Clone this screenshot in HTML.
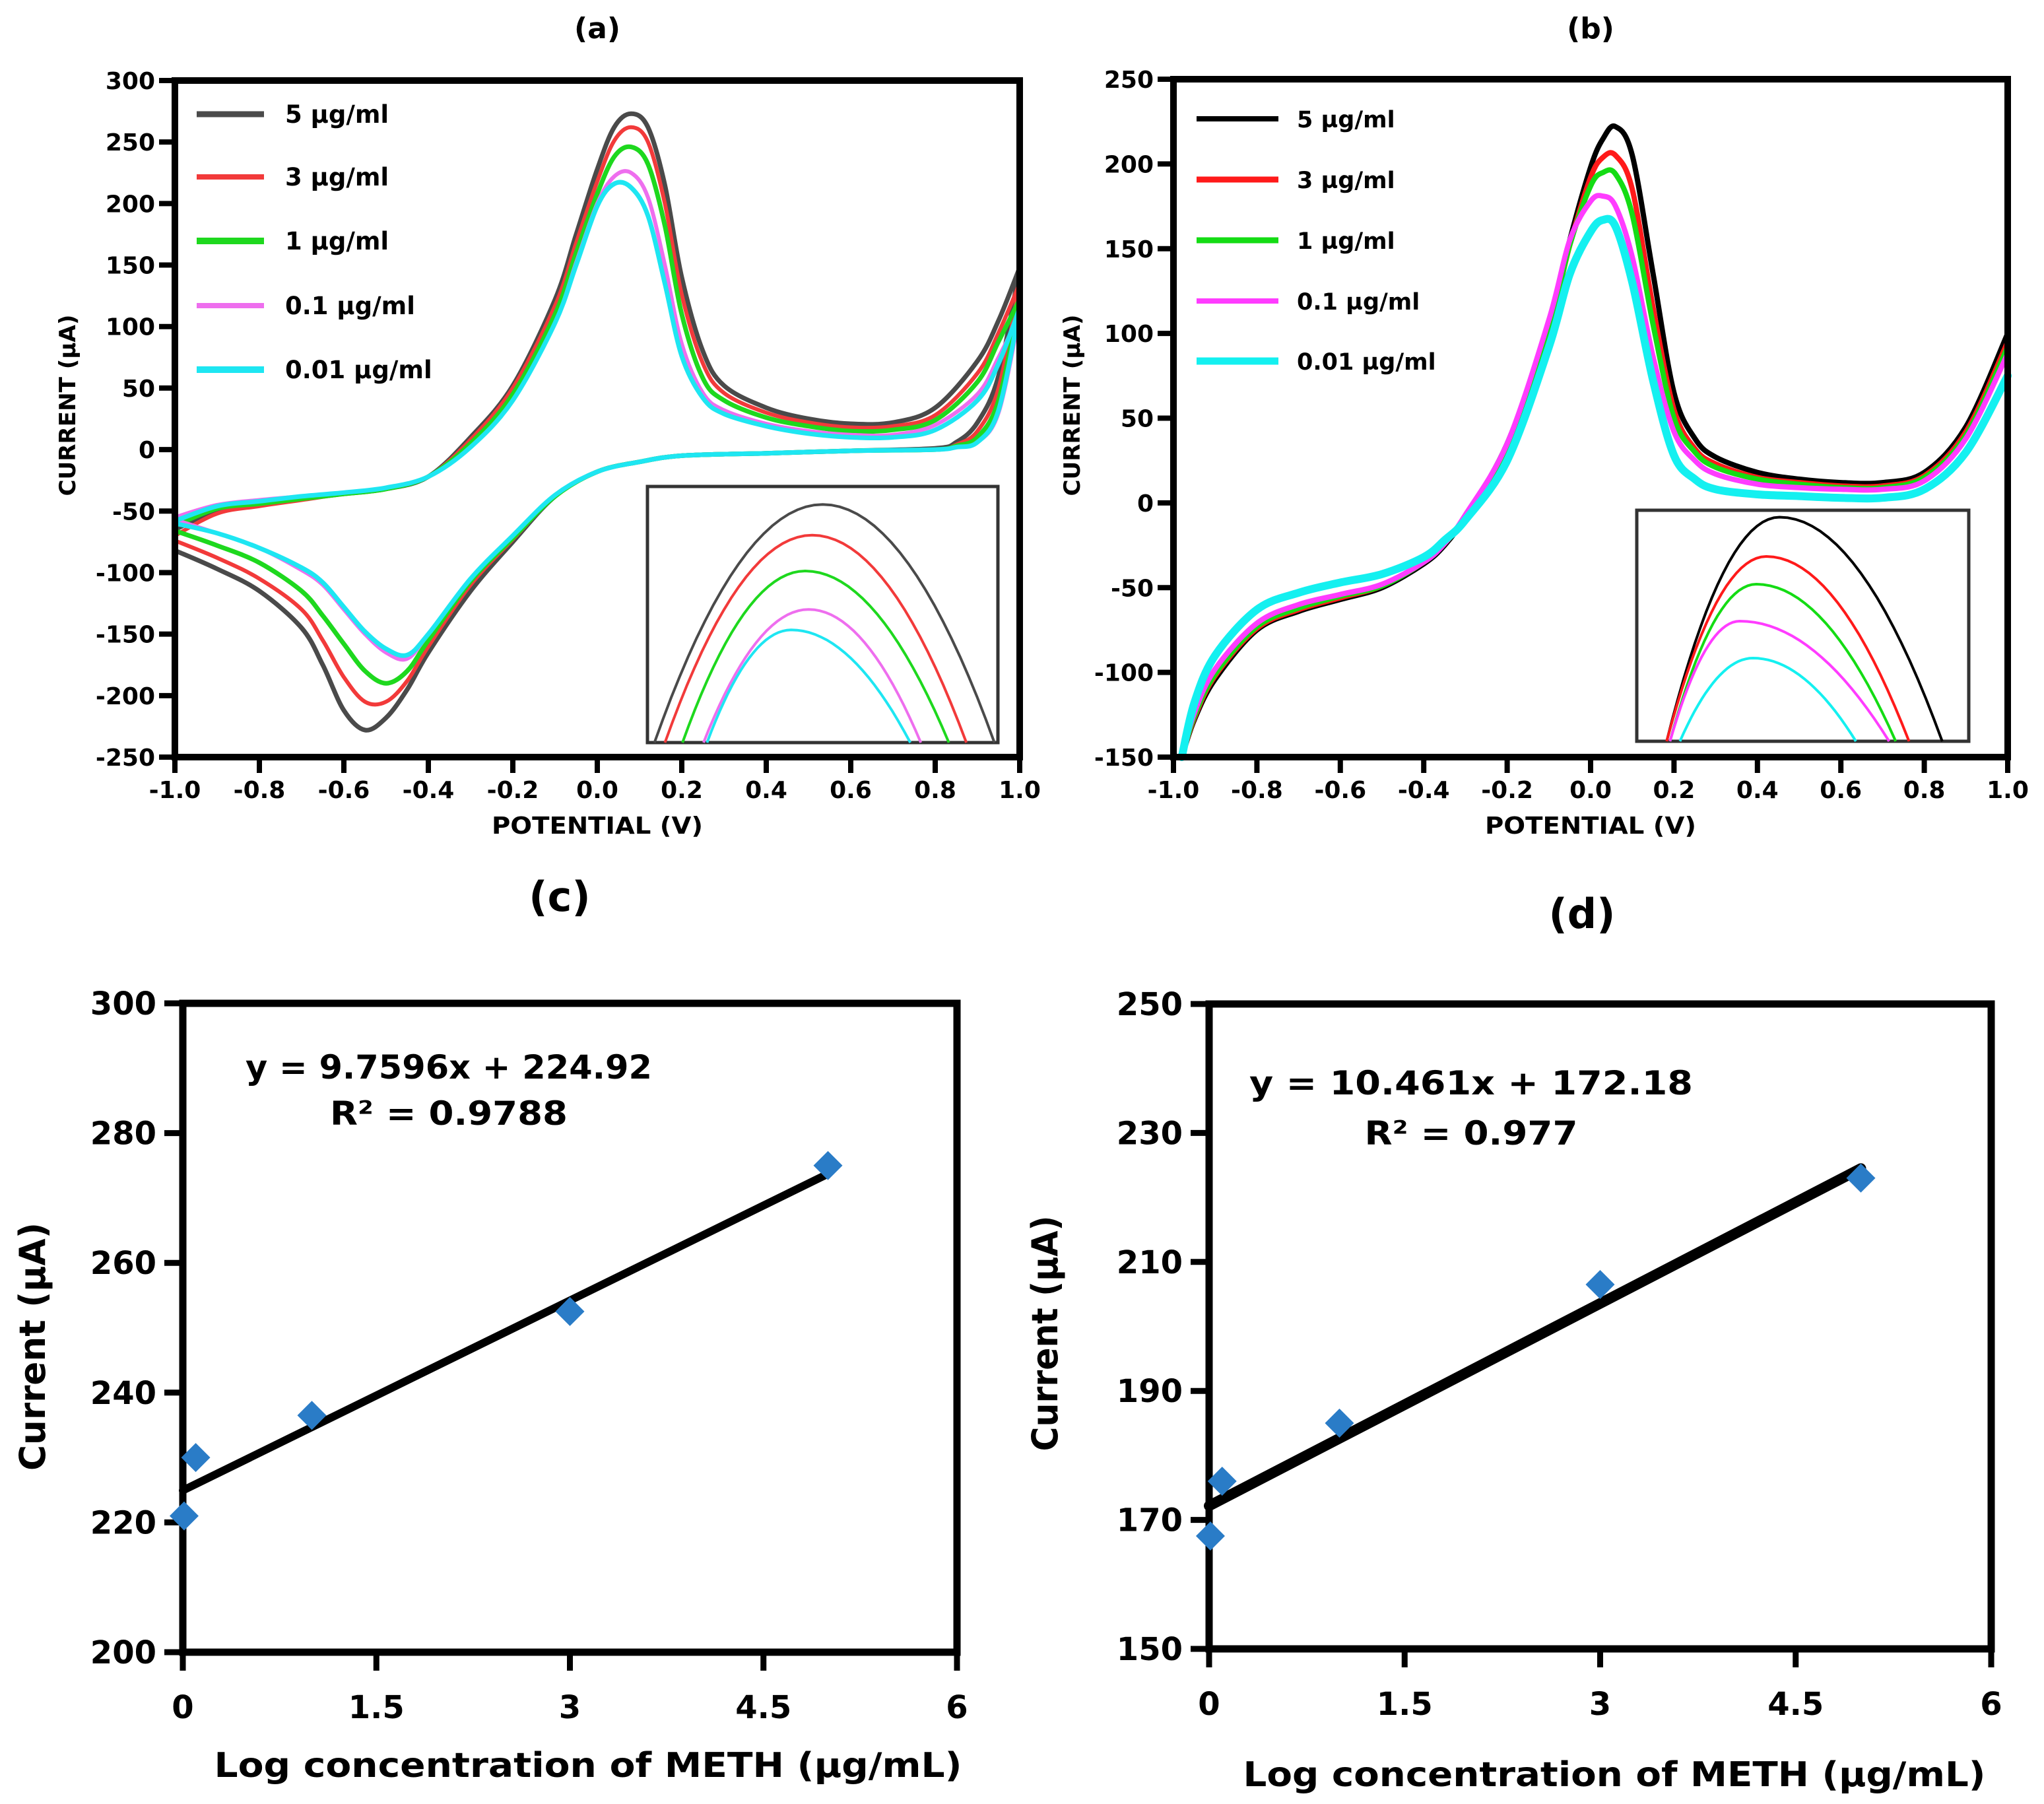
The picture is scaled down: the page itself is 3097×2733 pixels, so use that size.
<!DOCTYPE html>
<html><head><meta charset="utf-8"><style>
html,body{margin:0;padding:0;background:#fff;}
svg{display:block;font-family:"DejaVu Sans","Liberation Sans",sans-serif;font-weight:bold;}
</style></head><body>
<svg id="fig" width="3097" height="2733" viewBox="0 0 3097 2733" xmlns="http://www.w3.org/2000/svg"></svg>
<script>
// ---------- Panel (a) data ----------
const aLabels = ["5 µg/ml","3 µg/ml","1 µg/ml","0.1 µg/ml","0.01 µg/ml"];
const aColors = ["#4a4a4a","#f23a3a","#1ed81e","#ee6eee","#1ee6f2"];
const aUpX = [-1,-0.9,-0.8,-0.7,-0.6,-0.5,-0.4,-0.3,-0.2,-0.1,-0.05,0,0.04,0.08,0.12,0.16,0.2,0.25,0.3,0.4,0.5,0.6,0.7,0.8,0.9,0.95,1.0];
const aUp5   = [-65,-50,-45,-40,-36,-32,-22,10,52,122,175,228,262,273,262,215,140,80,52,34,25,21,22,34,72,105,148];
const aUp3   = [-70,-52,-46,-41,-36,-32,-22,8,50,117,168,218,251,262,250,200,126,70,46,30,22,18,19,28,62,95,135];
const aUp1   = [-62,-48,-44,-40,-36,-32,-22,5,45,110,160,208,238,246,232,182,110,58,40,26,19,15,16,24,55,88,122];
const aUp01  = [-55,-45,-41,-38,-35,-31,-22,2,40,103,152,200,222,225,205,150,86,46,32,21,15,12,12,20,45,75,110];
const aUp001 = [-58,-46,-42,-38,-35,-31,-22,2,40,103,150,198,216,213,190,135,76,42,29,19,13,10,10,16,40,70,115];
const aDnX = [1.0,0.95,0.9,0.85,0.8,0.6,0.4,0.2,0.1,0,-0.1,-0.2,-0.3,-0.4,-0.45,-0.5,-0.55,-0.6,-0.65,-0.7,-0.8,-0.9,-1.0];
const aDn5   = [148,60,22,6,1,-1,-3,-5,-10,-18,-38,-75,-115,-165,-195,-218,-228,-212,-175,-145,-115,-97,-82];
const aDn3   = [135,50,15,4,0,-1,-3,-5,-10,-18,-38,-73,-110,-160,-188,-205,-205,-185,-155,-130,-105,-88,-74];
const aDn1   = [122,40,10,3,0,-1,-3,-5,-10,-18,-38,-72,-107,-155,-180,-190,-180,-158,-135,-115,-92,-78,-66];
const aDn01  = [110,30,6,2,0,-1,-3,-5,-10,-18,-37,-70,-105,-150,-170,-165,-150,-130,-110,-98,-80,-68,-57];
const aDn001 = [115,32,6,2,0,-1,-3,-5,-10,-18,-37,-70,-105,-150,-167,-162,-148,-128,-108,-96,-80,-68,-60];
const aYTicks = [300,250,200,150,100,50,0,-50,-100,-150,-200,-250];
const aXTicks = [-1.0,-0.8,-0.6,-0.4,-0.2,0.0,0.2,0.4,0.6,0.8,1.0];
const aInsPX = [0.50,0.47,0.45,0.46,0.41];
const aInsPY = [0.07,0.19,0.33,0.48,0.56];
const aInsL  = [0.02,0.05,0.10,0.16,0.17];
const aInsR  = [0.99,0.91,0.86,0.78,0.75];

// ---------- Panel (b) data ----------
const bLabels = ["5 µg/ml","3 µg/ml","1 µg/ml","0.1 µg/ml","0.01 µg/ml"];
const bColors = ["#000000","#ff1a1a","#14dc14","#ff3cff","#14f0f0"];
const bX = [-0.98,-0.95,-0.9,-0.8,-0.7,-0.6,-0.5,-0.4,-0.35,-0.3,-0.2,-0.1,-0.05,0,0.03,0.06,0.1,0.15,0.2,0.25,0.3,0.4,0.5,0.6,0.7,0.8,0.9,1.0];
const b5   = [-150,-128,-104,-75,-64,-57,-50,-36,-25,-8,35,105,155,198,215,222,205,135,65,38,27,18,14,12,12,18,45,100];
const b3   = [-150,-127,-102,-74,-63,-56,-49,-35,-24,-8,33,103,152,192,204,205,185,115,55,32,23,15,12,10,10,16,42,95];
const b1   = [-150,-126,-101,-73,-62,-55,-49,-35,-24,-8,33,103,152,187,195,194,170,105,50,30,21,14,11,9,9,15,40,92];
const b01  = [-150,-124,-98,-71,-60,-54,-48,-35,-24,-7,35,108,155,178,181,175,145,86,42,25,17,11,9,8,8,13,38,88];
const b001 = [-150,-118,-90,-63,-53,-47,-42,-32,-22,-10,25,92,135,160,167,163,130,72,28,14,8,5,4,3,3,8,30,75];
const bYTicks = [250,200,150,100,50,0,-50,-100,-150];
const bXTicks = [-1.0,-0.8,-0.6,-0.4,-0.2,0.0,0.2,0.4,0.6,0.8,1.0];
const bInsPX = [0.43,0.39,0.36,0.31,0.35];
const bInsPY = [0.03,0.20,0.32,0.48,0.64];
const bInsL  = [0.09,0.09,0.10,0.10,0.13];
const bInsR  = [0.92,0.82,0.78,0.76,0.66];

// ---------- Panel (c)/(d) data ----------
const cConc = [0.01,0.1,1,3,5];
const cCurrent = [221,230,236.5,252.5,275];
const cSlope = 9.7596, cIntercept = 224.92;
const dConc = [0.01,0.1,1,3,5];
const dCurrent = [167.5,176,185,206.5,223];
const dSlope = 10.461, dIntercept = 172.18;
const cYTicks = [300,280,260,240,220,200];
const dYTicks = [250,230,210,190,170,150];
const xTicksCD = ["0","1.5","3","4.5","6"];
const xTickValsCD = [0,1.5,3,4.5,6];

const NS="http://www.w3.org/2000/svg";
const svg=document.getElementById('fig');
function mk(tag,attrs,parent){const e=document.createElementNS(NS,tag);for(const k in attrs)e.setAttribute(k,attrs[k]);(parent||svg).appendChild(e);return e;}
function txt(s,attrs,parent){const e=mk('text',attrs,parent);e.textContent=s;return e;}
function lin(d0,d1,r0,r1){return v=>r0+(v-d0)/(d1-d0)*(r1-r0);}
function smooth(pts){let d='M'+pts[0][0].toFixed(1)+','+pts[0][1].toFixed(1);
  for(let i=0;i<pts.length-1;i++){const p0=pts[Math.max(0,i-1)],p1=pts[i],p2=pts[i+1],p3=pts[Math.min(pts.length-1,i+2)];
    const c1=[p1[0]+(p2[0]-p0[0])/6,p1[1]+(p2[1]-p0[1])/6],c2=[p2[0]-(p3[0]-p1[0])/6,p2[1]-(p3[1]-p1[1])/6];
    d+='C'+c1[0].toFixed(1)+','+c1[1].toFixed(1)+' '+c2[0].toFixed(1)+','+c2[1].toFixed(1)+' '+p2[0].toFixed(1)+','+p2[1].toFixed(1);}
  return d;}

function cvPanel(o){
  const X=lin(-1,1,o.l,o.r), Y=lin(o.yMax,o.yMin,o.t,o.b);
  const g=mk('g',{});
  
  
  const title=txt(o.title,{x:(o.l+o.r)/2,y:58,'font-size':44,'text-anchor':'middle'},g);
  
  
  o.series.forEach((s,i)=>{
    s.forEach(br=>{
      const pts=br.x.map((xv,j)=>[X(xv),Y(br.y[j])]);
      const p=mk('path',{d:smooth(pts),fill:'none',stroke:o.colors[i],'stroke-width':o.sw[i],'stroke-linejoin':'round','stroke-linecap':'round'},g);
      
      
    });
  });
  const fr=mk('rect',{x:o.l,y:o.t,width:o.r-o.l,height:o.b-o.t,fill:'none',stroke:'#000','stroke-width':10},g);
  
  
  o.yTicks.forEach(v=>{
    const y=Y(v);
    mk('line',{x1:o.l-24,x2:o.l,y1:y,y2:y,stroke:'#000','stroke-width':8},g);
    const t=txt(String(v),{x:o.l-30,y:y+13,'font-size':36,'text-anchor':'end'},g);
    
    
  });
  o.xTicks.forEach(v=>{
    const x=X(v);
    mk('line',{x1:x,x2:x,y1:o.b,y2:o.b+24,stroke:'#000','stroke-width':8},g);
    const t=txt(v.toFixed(1),{x:x,y:o.b+62,'font-size':36,'text-anchor':'middle'},g);
    
    
  });
  const xt=txt('POTENTIAL (V)',{x:(o.l+o.r)/2,y:o.b+116,'font-size':36,'text-anchor':'middle',textLength:320,lengthAdjust:'spacingAndGlyphs'},g);
  
  
  const yt=txt('CURRENT (µA)',{x:0,y:0,'font-size':34,'text-anchor':'middle',textLength:275,lengthAdjust:'spacingAndGlyphs',transform:'translate('+o.yTitleX+',614) rotate(-90)'},g);
  
  
  o.labels.forEach((lab,i)=>{
    const y=o.legY[i];
    const ln=mk('line',{x1:o.legX0,x2:o.legX1,y1:y,y2:y,stroke:o.colors[i],'stroke-width':o.legSW[i]},g);
    
    
    const t=txt(lab,{x:o.legTX,y:y+13,'font-size':o.legFS},g);
    
    
  });
  const ins=o.inset;
  const ir=mk('rect',{x:ins.l,y:ins.t,width:ins.r-ins.l,height:ins.b-ins.t,fill:'#fff',stroke:'#333','stroke-width':5},g);
  
  
  const IX=lin(0,1,ins.l,ins.r), IY=lin(0,1,ins.t,ins.b);
  ins.px.forEach((px,i)=>{
    const pts=[];
    for(let k=0;k<=20;k++){const f=k/20;const x=ins.L[i]+(px-ins.L[i])*f;pts.push([IX(x),IY(ins.py[i]+(1-ins.py[i])*(1-f)*(1-f))]);}
    for(let k=1;k<=20;k++){const f=k/20;const x=px+(ins.R[i]-px)*f;pts.push([IX(x),IY(ins.py[i]+(1-ins.py[i])*f*f)]);}
    const p=mk('path',{d:'M'+pts.map(q=>q[0].toFixed(1)+','+q[1].toFixed(1)).join('L'),fill:'none',stroke:o.colors[i],'stroke-width':4},g);
    
    
  });
}

cvPanel({name:'panel-a',title:'(a)',l:265,r:1545,t:122,b:1147,yMax:300,yMin:-250,
  colors:aColors,labels:aLabels,sw:[7,6,7,6,7],
  series:[[{x:aUpX,y:aUp5},{x:aDnX,y:aDn5}],[{x:aUpX,y:aUp3},{x:aDnX,y:aDn3}],[{x:aUpX,y:aUp1},{x:aDnX,y:aDn1}],[{x:aUpX,y:aUp01},{x:aDnX,y:aDn01}],[{x:aUpX,y:aUp001},{x:aDnX,y:aDn001}]],
  yTicks:aYTicks,xTicks:aXTicks,yTitleX:114,
  legX0:298,legX1:400,legTX:432,legY:[173,268,365,463,560],legSW:[9,8,10,8,10],legFS:37,
  inset:{l:981,r:1512,t:737,b:1125,px:aInsPX,py:aInsPY,L:aInsL,R:aInsR}});

cvPanel({name:'panel-b',title:'(b)',l:1778,r:3042,t:120,b:1147,yMax:250,yMin:-150,
  colors:bColors,labels:bLabels,sw:[8,8,8,8,12],
  series:[[{x:bX,y:b5}],[{x:bX,y:b3}],[{x:bX,y:b1}],[{x:bX,y:b01}],[{x:bX,y:b001}]],
  yTicks:bYTicks,xTicks:bXTicks,yTitleX:1636,
  legX0:1813,legX1:1937,legTX:1965,legY:[180,272,364,456,547],legSW:[8,9,9,8,11],legFS:35,
  inset:{l:2480,r:2983,t:773,b:1123,px:bInsPX,py:bInsPY,L:bInsL,R:bInsR}});

function calPanel(o){
  const X=lin(0,6,o.l,o.r), Y=lin(o.yMax,o.yMin,o.t,o.b);
  const g=mk('g',{});
  
  
  const title=txt(o.title,{x:o.titleX,y:o.titleY,'font-size':62,'text-anchor':'middle'},g);
  
  
  const fr=mk('rect',{x:o.l,y:o.t,width:o.r-o.l,height:o.b-o.t,fill:'none',stroke:'#000','stroke-width':11},g);
  
  
  o.yTicks.forEach(v=>{const y=Y(v);
    mk('line',{x1:o.l-28,x2:o.l,y1:y,y2:y,stroke:'#000','stroke-width':9},g);
    const t=txt(String(v),{x:o.l-40,y:y+17,'font-size':48,'text-anchor':'end'},g);
    
    });
  xTickValsCD.forEach((v,i)=>{const x=X(v);
    mk('line',{x1:x,x2:x,y1:o.b,y2:o.b+28,stroke:'#000','stroke-width':9},g);
    const t=txt(xTicksCD[i],{x:x,y:o.b+100,'font-size':48,'text-anchor':'middle'},g);
    
    });
  const fit=mk('line',{x1:X(0),y1:Y(o.b0),x2:X(5),y2:Y(o.b0+o.m*5),stroke:'#000','stroke-width':o.fw,'stroke-linecap':'round'},g);
  
  
  o.xs.forEach((xv,i)=>{const cx=X(xv),cy=Y(o.ys[i]),s=22;
    const d=mk('polygon',{points:cx+','+(cy-s)+' '+(cx+s)+','+cy+' '+cx+','+(cy+s)+' '+(cx-s)+','+cy,fill:'#2a7cc7'},g);
    
    });
  const e1=txt(o.eq,{x:o.eqX,y:o.eqY,'font-size':50,'text-anchor':'middle',textLength:o.eqW,lengthAdjust:'spacingAndGlyphs'},g);
  
  
  const e2=txt(o.r2,{x:o.eqX,y:o.eqY+o.r2dy,'font-size':50,'text-anchor':'middle',textLength:o.r2W,lengthAdjust:'spacingAndGlyphs'},g);
  
  
  const xt=txt('Log concentration of  METH (µg/mL)',{x:o.xtX,y:o.xtY,'font-size':52,'text-anchor':'middle',textLength:o.xtW,lengthAdjust:'spacingAndGlyphs'},g);
  
  
  const yt=txt('Current (µA)',{x:0,y:0,'font-size':54,'text-anchor':'middle',textLength:o.ytW,lengthAdjust:'spacingAndGlyphs',transform:'translate('+o.ytX+','+o.ytY+') rotate(-90)'},g);
  
  
}
calPanel({name:'panel-c',title:'(c)',titleX:848,titleY:1380,l:277,r:1450,t:1520,b:2503,yMax:300,yMin:200,
  yTicks:cYTicks,xs:cConc,ys:cCurrent,m:cSlope,b0:cIntercept,fw:12,
  eq:'y = 9.7596x + 224.92',r2:'R² = 0.9788',eqX:680,eqY:1634,eqW:616,r2W:360,r2dy:70,
  xtX:891,xtY:2692,xtW:1133,ytX:68,ytY:2040,ytW:376});
calPanel({name:'panel-d',title:'(d)',titleX:2397,titleY:1406,l:1832,r:3017,t:1521,b:2498,yMax:250,yMin:150,
  yTicks:dYTicks,xs:dConc,ys:dCurrent,m:dSlope,b0:dIntercept,fw:16,
  eq:'y = 10.461x + 172.18',r2:'R² = 0.977',eqX:2229,eqY:1658,eqW:672,r2W:323,r2dy:76,
  xtX:2446,xtY:2706,xtW:1125,ytX:1602,ytY:2020,ytW:357});
</script>
</body></html>
